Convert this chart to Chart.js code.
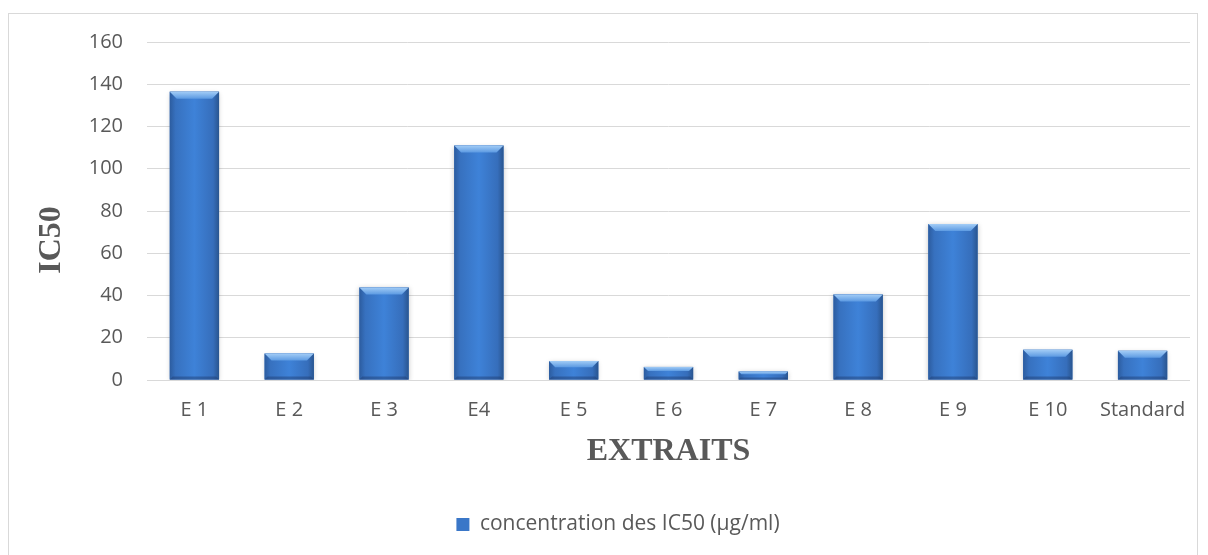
<!DOCTYPE html>
<html>
<head>
<meta charset="utf-8">
<script src="https://cdn.jsdelivr.net/npm/chart.js@4/dist/chart.umd.min.js"></script>
<style>
  html, body { margin: 0; padding: 0; background: #ffffff; }
  #wrap { width: 1208px; height: 555px; }
</style>
</head>
<body>
<div id="wrap"><canvas id="c" width="1208" height="555"></canvas></div>
<script>
// Extracts and their IC50 concentrations (µg/ml)
const categories = ['E 1', 'E 2', 'E 3', 'E4', 'E 5', 'E 6', 'E 7', 'E 8', 'E 9', 'E 10', 'Standard'];
const ic50Values = [136.5, 12.5, 43.8, 111, 9, 6.2, 4, 40.5, 73.8, 14.3, 13.8];
const seriesName = 'concentration des IC50 (µg/ml)';
const yTicks = [0, 20, 40, 60, 80, 100, 120, 140, 160];
const xTitle = 'EXTRAITS';
const yTitle = 'IC50';

const TEXT = '#595959';
const GRID = '#d9d9d9';
const BAR = '#3a77c8';

// Light frame around the whole chart
const framePlugin = {
  id: 'frame',
  beforeDraw(chart) {
    const ctx = chart.ctx;
    ctx.save();
    ctx.fillStyle = '#ffffff';
    ctx.fillRect(0, 0, chart.width, chart.height);
    ctx.strokeStyle = GRID;
    ctx.lineWidth = 1;
    ctx.strokeRect(8.5, 13.5, 1189, 600);
    ctx.restore();
  }
};

// Soft shadow under the bars, then a bevelled, shaded face on top of each one
const bevelPlugin = {
  id: 'bevel',
  beforeDatasetsDraw(chart) {
    const ctx = chart.ctx;
    ctx.save();
    ctx.shadowColor = 'rgba(0,0,0,0.22)';
    ctx.shadowBlur = 5;
    ctx.shadowOffsetX = 0;
    ctx.shadowOffsetY = 1;
  },
  afterDatasetsDraw(chart) {
    const ctx = chart.ctx;
    ctx.restore();
    ctx.save();
    chart.getDatasetMeta(0).data.forEach(bar => {
      const w = bar.width;
      const l = bar.x - w / 2, r = bar.x + w / 2;
      const t = bar.y, b = bar.base;
      const h = b - t;
      // horizontal shading across the bar face
      const g = ctx.createLinearGradient(l, 0, r, 0);
      g.addColorStop(0, '#2c5c9f');
      g.addColorStop(0.12, '#3771bf');
      g.addColorStop(0.5, '#3e82d8');
      g.addColorStop(0.88, '#366ebb');
      g.addColorStop(1, '#29558f');
      ctx.fillStyle = g;
      ctx.fillRect(l, t, w, h);
      // top bevel
      const d = Math.min(7, h / 3);
      const tg = ctx.createLinearGradient(0, t, 0, t + d);
      tg.addColorStop(0, '#a2ccf6');
      tg.addColorStop(1, '#5c9ae2');
      ctx.fillStyle = tg;
      ctx.beginPath();
      ctx.moveTo(l, t);
      ctx.lineTo(r, t);
      ctx.lineTo(r - d, t + d);
      ctx.lineTo(l + d, t + d);
      ctx.closePath();
      ctx.fill();
      // bottom edge, slightly darker
      const bd = Math.min(3, h / 4);
      ctx.fillStyle = 'rgba(30,60,110,0.45)';
      ctx.beginPath();
      ctx.moveTo(l, b);
      ctx.lineTo(r, b);
      ctx.lineTo(r - bd, b - bd);
      ctx.lineTo(l + bd, b - bd);
      ctx.closePath();
      ctx.fill();
    });
    ctx.restore();
  }
};

// Vertical axis title, placed beside the value axis
const yTitlePlugin = {
  id: 'yTitle',
  afterDraw(chart) {
    const ctx = chart.ctx;
    ctx.save();
    ctx.translate(52, 240);
    ctx.rotate(-Math.PI / 2);
    ctx.font = 'bold 32px "Liberation Serif", "DejaVu Serif", serif';
    ctx.fillStyle = TEXT;
    ctx.textAlign = 'center';
    ctx.textBaseline = 'middle';
    ctx.fillText(yTitle, 0, 0);
    ctx.restore();
  }
};

new Chart(document.getElementById('c'), {
  type: 'bar',
  data: {
    labels: categories,
    datasets: [{
      label: seriesName,
      data: ic50Values,
      backgroundColor: BAR,
      borderWidth: 0,
      barPercentage: 0.52,
      categoryPercentage: 1.0
    }]
  },
  options: {
    responsive: false,
    animation: false,
    devicePixelRatio: 1,
    layout: { padding: { left: 46, right: 18, top: 42, bottom: 10 } },
    plugins: {
      tooltip: { enabled: false },
      legend: {
        position: 'bottom',
        labels: {
          color: TEXT,
          font: { family: '"Open Sans", sans-serif', size: 21 },
          boxWidth: 13,
          boxHeight: 13,
          padding: 10
        }
      }
    },
    scales: {
      x: {
        grid: { display: false, drawTicks: false },
        border: { display: false },
        ticks: {
          color: TEXT,
          font: { family: '"Open Sans", sans-serif', size: 20 },
          padding: 18,
          maxRotation: 0,
          autoSkip: false
        },
        title: {
          display: true,
          text: xTitle,
          color: TEXT,
          font: { family: '"Liberation Serif", "DejaVu Serif", serif', size: 32, weight: 'bold' },
          padding: { top: 0, bottom: 33 }
        },
        afterFit(scale) { scale.height = 124; }
      },
      y: {
        min: 0,
        max: 160,
        afterBuildTicks(scale) { scale.ticks = yTicks.map(v => ({ value: v })); },
        grid: { color: GRID, lineWidth: 1, drawTicks: false },
        border: { display: false },
        ticks: {
          color: TEXT,
          font: { family: '"Open Sans", sans-serif', size: 20 },
          padding: 24
        },
        afterFit(scale) { scale.width = 101; }
      }
    }
  },
  plugins: [framePlugin, bevelPlugin, yTitlePlugin]
});
</script>
</body>
</html>
